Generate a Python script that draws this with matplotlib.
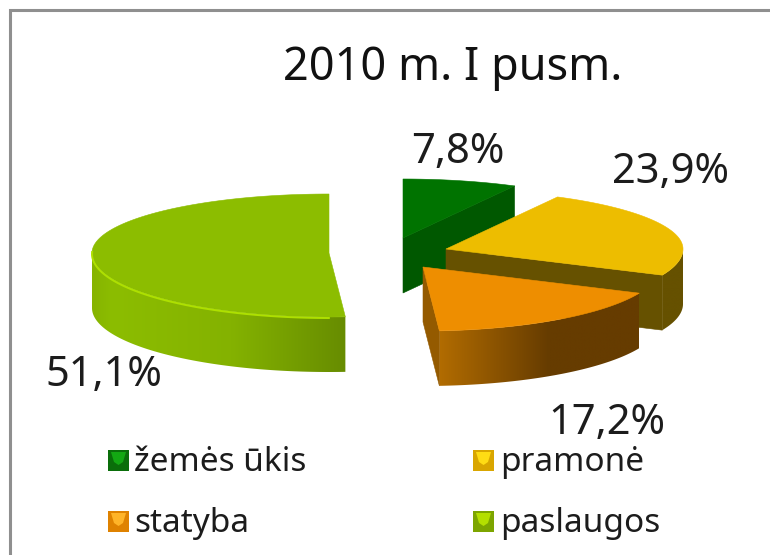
"""
plot.py - 3D look exploded pie of value added by sector, 2010 H1.
"""

import numpy as np
import matplotlib
matplotlib.use("Agg")
import matplotlib.pyplot as plt
from matplotlib.colors import LinearSegmentedColormap
from matplotlib.patches import Polygon, Rectangle

# Data
title = "2010 m. I pusm."
categories = ["žemės ūkis", "pramonė", "statyba", "paslaugos"]
shares = [7.8, 23.9, 17.2, 51.1]
value_labels = ["7,8%", "23,9%", "17,2%", "51,1%"]

# Colours per slice
TOP = ["#007300", "#edbd00", "#ee8e00", "#8cbd00"]
FACE = ["#005800", "#665100", "#945a00", None]
WALL_STOPS = [
    None,
    [(0, "#665100"), (1, "#665100")],
    [(0, "#b26c00"), (0.55, "#663c00"), (1, "#663c00")],
    [(0, "#86b400"), (0.08, "#8cbd00"), (0.55, "#84b200"), (1, "#678c00")],
]
SWATCH_LIGHT = ["#13a813", "#ffdc14", "#ffb428", "#b4df00"]
SWATCH_BASE = ["#0a6e0a", "#d9a600", "#df8200", "#7da500"]

# Layout (pixels)
W, H = 770, 555
RX, RY_BACK, RY_FRONT, DEPTH = 237, 59, 64, 55
APEX = [(403, 238), (446, 249), (423, 267), (329, 253)]
LABEL_POS = [(458, 152), (671, 172), (607, 423), (104, 375)]
SWATCH_POS = [(108, 460.5), (473, 460.5), (108, 521.5), (473, 521.5)]
TEXT_X = [134, 500, 134, 500]
SWATCH = 21


def project(apex, deg):
    """Angle clockwise from 12 o'clock to pixel position on the top ellipse."""
    a = np.radians(deg)
    ry = RY_BACK if np.cos(a) > 0 else RY_FRONT
    return apex[0] + RX * np.sin(a), apex[1] - ry * np.cos(a)


fig = plt.figure(figsize=(W / 100, H / 100), dpi=100, facecolor="white")
ax = fig.add_axes([0, 0, 1, 1])
ax.axis("off")

plt.rcParams["font.family"] = ["Noto Sans", "DejaVu Sans"]

# Frame only shows on the top and left
ax.plot([10, 10, W], [H, 9.5, 9.5], color="#8f8f8f", lw=2.2, solid_joinstyle="miter")

edges = np.concatenate([[0], np.cumsum(shares)]) / sum(shares) * 360
gradient = np.linspace(0, 1, 256).reshape(1, -1)

for i in range(len(shares)):
    apex, start, end = APEX[i], edges[i], edges[i + 1]
    rim = np.array([project(apex, d) for d in np.linspace(start, end, 120)])

    # outer wall, only the part facing the viewer, with a left to right gradient
    if WALL_STOPS[i] is not None:
        front = np.linspace(max(start, 90), min(end, 270), 120)
        wall_top = np.array([project(apex, d) for d in front])
        outline = np.vstack([wall_top, (wall_top + [0, DEPTH])[::-1]])
        wall_cmap = LinearSegmentedColormap.from_list(f"wall{i}", WALL_STOPS[i])
        im = ax.imshow(gradient, cmap=wall_cmap, aspect="auto", zorder=2 + i,
                       interpolation="bilinear",
                       extent=[outline[:, 0].min(), outline[:, 0].max(),
                               outline[:, 1].max(), outline[:, 1].min()])
        clip = Polygon(outline, closed=True, transform=ax.transData, fc="none", ec="none")
        ax.add_patch(clip)
        im.set_clip_path(clip)

    # cut face that turns towards the viewer
    if FACE[i] is not None:
        e = np.array(project(apex, end))
        a = np.array(apex, dtype=float)
        ax.add_patch(Polygon([a, e, e + [0, DEPTH], a + [0, DEPTH]], closed=True,
                             fc=FACE[i], ec=FACE[i], lw=0.4, zorder=2 + i))

    # top of the slice
    ax.add_patch(Polygon(np.vstack([apex, rim]), closed=True, fc=TOP[i], ec=TOP[i],
                         lw=0.4, zorder=2 + i))

    # bevel highlight on the big slice
    if i == 3:
        glow = np.array([project(apex, d) for d in np.linspace(start + 4, 272, 80)])
        ax.plot(glow[:, 0], glow[:, 1] + 1, color="#aee000", lw=1.4, zorder=2 + i)

    ax.text(*LABEL_POS[i], value_labels[i], fontsize=30, color="#1c1c1c",
            ha="center", va="center", zorder=10)

ax.text(453, 68, title, fontsize=32.4, color="#111111", ha="center", va="center")

# Legend
for i, name in enumerate(categories):
    x, y = SWATCH_POS[i]
    y0 = y - SWATCH / 2
    ax.add_patch(Rectangle((x, y0), SWATCH, SWATCH, fc=SWATCH_BASE[i], ec="none"))
    ax.add_patch(Polygon([(x + 3, y0 + 2), (x + SWATCH - 3, y0 + 2), (x + SWATCH - 6, y0 + 12),
                          (x + SWATCH / 2, y0 + 15), (x + 6, y0 + 12)],
                         closed=True, fc=SWATCH_LIGHT[i], ec="none"))
    ax.text(TEXT_X[i], y + 2, name, fontsize=24, color="#1c1c1c", ha="left", va="center")

ax.set_xlim(0, W)
ax.set_ylim(H, 0)

fig.savefig("out.png", dpi=100, facecolor="white")
plt.close(fig)
